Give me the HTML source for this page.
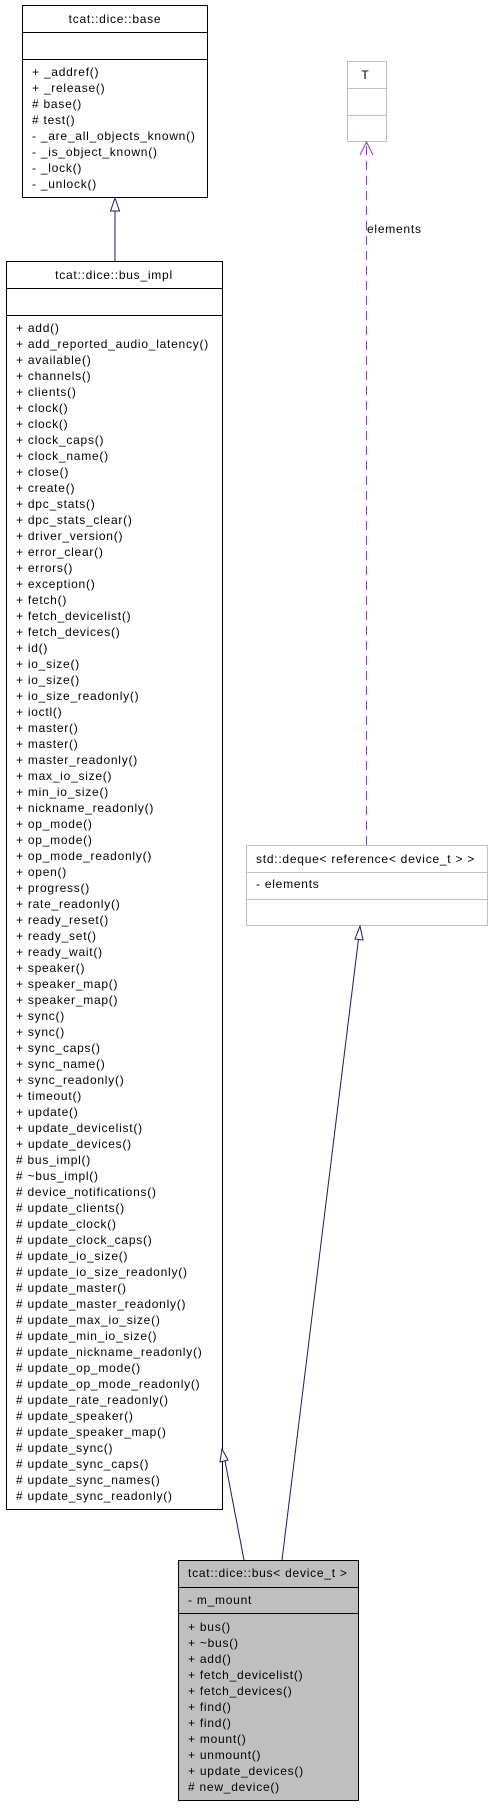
<!DOCTYPE html>
<html><head><meta charset="utf-8"><style>
html,body{margin:0;padding:0;background:#fff;}
svg text{font-family:"Liberation Sans",Arial,sans-serif;font-size:12px;letter-spacing:0.75px;fill:#000;}
</style></head><body>
<svg width="491" height="1805" viewBox="0 0 491 1805" xmlns="http://www.w3.org/2000/svg">
<rect x="0" y="0" width="491" height="1805" fill="#fff"/>
<!-- base -->
<rect x="22.5" y="5.5" width="185" height="192" fill="#fff" stroke="#000"/>
<line x1="22.5" y1="32.5" x2="207.5" y2="32.5" stroke="#000"/>
<line x1="22.5" y1="59.5" x2="207.5" y2="59.5" stroke="#000"/>
<text x="115" y="23" text-anchor="middle">tcat::dice::base</text>
<g>
<text x="32" y="76">+ _addref()</text>
<text x="32" y="92">+ _release()</text>
<text x="32" y="108"># base()</text>
<text x="32" y="124"># test()</text>
<text x="32" y="140">- _are_all_objects_known()</text>
<text x="32" y="156">- _is_object_known()</text>
<text x="32" y="172">- _lock()</text>
<text x="32" y="188">- _unlock()</text>
</g>
<!-- base <- bus_impl -->
<line x1="115" y1="261" x2="115" y2="211" stroke="#191970"/>
<polygon points="115,198 110.5,211 119.5,211" fill="#fff" stroke="#191970"/>
<!-- bus_impl -->
<rect x="6.5" y="261.5" width="216" height="1248" fill="#fff" stroke="#000"/>
<line x1="6.5" y1="288.5" x2="222.5" y2="288.5" stroke="#000"/>
<line x1="6.5" y1="315.5" x2="222.5" y2="315.5" stroke="#000"/>
<text x="114" y="279" text-anchor="middle">tcat::dice::bus_impl</text>
<g id="bi"></g>
<!-- T -->
<rect x="347.5" y="61.5" width="39" height="80" fill="#fff" stroke="#bfbfbf"/>
<line x1="347.5" y1="88.5" x2="386.5" y2="88.5" stroke="#bfbfbf"/>
<line x1="347.5" y1="115.5" x2="386.5" y2="115.5" stroke="#bfbfbf"/>
<text x="365" y="79" text-anchor="middle" style="letter-spacing:0">T</text>
<line x1="366.5" y1="845" x2="366.5" y2="143" stroke="#9a32cd" stroke-dasharray="9,6"/>
<polyline points="360,155 366.5,142 373,155" fill="none" stroke="#9a32cd"/>
<text x="367" y="233">elements</text>
<!-- deque -->
<rect x="246.5" y="845.5" width="241" height="80" fill="#fff" stroke="#bfbfbf"/>
<line x1="246.5" y1="872.5" x2="487.5" y2="872.5" stroke="#bfbfbf"/>
<line x1="246.5" y1="899.5" x2="487.5" y2="899.5" stroke="#bfbfbf"/>
<text x="256" y="863">std::deque&lt; reference&lt; device_t &gt; &gt;</text>
<text x="256" y="888">- elements</text>
<!-- bus -> deque -->
<line x1="282" y1="1560" x2="358.5" y2="939" stroke="#191970"/>
<polygon points="360,926 355,939 363,940" fill="#fff" stroke="#191970"/>
<!-- bus -> bus_impl -->
<line x1="244" y1="1560" x2="225" y2="1461" stroke="#191970"/>
<polygon points="222,1449 220,1462 228,1460" fill="#fff" stroke="#191970"/>
<!-- bus -->
<rect x="178.5" y="1560.5" width="180" height="240" fill="#bfbfbf" stroke="#000"/>
<line x1="178.5" y1="1587.5" x2="358.5" y2="1587.5" stroke="#000"/>
<line x1="178.5" y1="1613.5" x2="358.5" y2="1613.5" stroke="#000"/>
<text x="188" y="1577">tcat::dice::bus&lt; device_t &gt;</text>
<text x="188" y="1604">- m_mount</text>
<g id="bu"></g>
</svg>
<script>
var ns="http://www.w3.org/2000/svg";
function fill(id,x,y0,arr){var g=document.getElementById(id);arr.forEach(function(s,i){var t=document.createElementNS(ns,"text");t.setAttribute("x",x);t.setAttribute("y",y0+i*16);t.textContent=s;g.appendChild(t);});}
var pub=["add","add_reported_audio_latency","available","channels","clients","clock","clock","clock_caps","clock_name","close","create","dpc_stats","dpc_stats_clear","driver_version","error_clear","errors","exception","fetch","fetch_devicelist","fetch_devices","id","io_size","io_size","io_size_readonly","ioctl","master","master","master_readonly","max_io_size","min_io_size","nickname_readonly","op_mode","op_mode","op_mode_readonly","open","progress","rate_readonly","ready_reset","ready_set","ready_wait","speaker","speaker_map","speaker_map","sync","sync","sync_caps","sync_name","sync_readonly","timeout","update","update_devicelist","update_devices"];
var prot=["bus_impl","~bus_impl","device_notifications","update_clients","update_clock","update_clock_caps","update_io_size","update_io_size_readonly","update_master","update_master_readonly","update_max_io_size","update_min_io_size","update_nickname_readonly","update_op_mode","update_op_mode_readonly","update_rate_readonly","update_speaker","update_speaker_map","update_sync","update_sync_caps","update_sync_names","update_sync_readonly"];
fill("bi",16,332,pub.map(function(s){return "+ "+s+"()";}).concat(prot.map(function(s){return "# "+s+"()";})));
fill("bu",188,1631,["+ bus()","+ ~bus()","+ add()","+ fetch_devicelist()","+ fetch_devices()","+ find()","+ find()","+ mount()","+ unmount()","+ update_devices()","# new_device()"]);
</script>
</body></html>
